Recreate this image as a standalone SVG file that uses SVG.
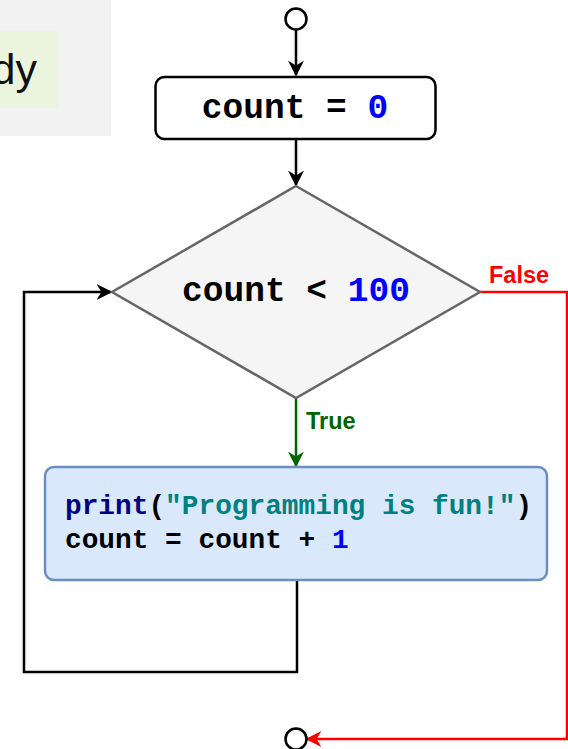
<svg xmlns="http://www.w3.org/2000/svg" width="568" height="749" viewBox="0 0 568 749">
<defs>
<style>
.mono{font-family:"Liberation Mono","DejaVu Sans Mono",monospace;font-weight:bold}
.lbl{font-family:"Liberation Sans",Arial,sans-serif;font-weight:bold;font-size:23.5px}
.conn{fill:none;stroke-width:2.5}
</style>
<marker id="ab2" viewBox="0 0 10 10" refX="9" refY="5" markerWidth="16" markerHeight="16" orient="auto" markerUnits="userSpaceOnUse">
<path d="M0,0 L10,5 L0,10 L3,5 Z" fill="#000"/>
</marker>
<marker id="ag" viewBox="0 0 10 10" refX="9" refY="5" markerWidth="16" markerHeight="16" orient="auto" markerUnits="userSpaceOnUse">
<path d="M0,0 L10,5 L0,10 L3,5 Z" fill="#006600"/>
</marker>
<marker id="ar" viewBox="0 0 10 10" refX="9" refY="5" markerWidth="16" markerHeight="16" orient="auto" markerUnits="userSpaceOnUse">
<path d="M0,0 L10,5 L0,10 L3,5 Z" fill="#ff0000"/>
</marker>
</defs>
<rect width="568" height="749" fill="#fff"/>
<g id="panel">
<rect x="0" y="0" width="111" height="136" fill="#f2f2f2"/>
<rect x="0" y="31" width="58" height="77" fill="#ebf5dd"/>
<text x="37" y="84" text-anchor="end" font-family="'Liberation Sans',Arial,sans-serif" font-size="43" fill="#111">dy</text>
</g>
<g id="connectors">
<path class="conn" stroke="#000" d="M296,30 L296,75" marker-end="url(#ab2)"/>
<path class="conn" stroke="#000" d="M296,139 L296,185" marker-end="url(#ab2)"/>
<path class="conn" stroke="#006600" d="M296,398 L296,466" marker-end="url(#ag)"/>
<path class="conn" stroke="#000" d="M297,581 L297,672 L24,672 L24,292 L111,292" marker-end="url(#ab2)"/>
<path class="conn" stroke="#ff0000" d="M480,292 L567,292 L567,739 L307,739" marker-end="url(#ar)"/>
<text class="lbl" x="306" y="429" fill="#006600">True</text>
<text class="lbl" x="489" y="283" fill="#ff0000">False</text>
</g>
<g id="start">
<circle cx="296" cy="19" r="10.5" fill="#fff" stroke="#000" stroke-width="2.5"/>
</g>
<g id="init">
<rect x="155.5" y="77" width="280" height="62" rx="9" fill="#fff" stroke="#000" stroke-width="2.5"/>
<text class="mono" x="295" y="118" text-anchor="middle" font-size="34.5" fill="#000">count = <tspan fill="#0000ff">0</tspan></text>
</g>
<g id="cond">
<polygon points="296,186 480,292 296,398 112,292" fill="#f5f5f5" stroke="#666" stroke-width="2.5"/>
<text class="mono" x="296" y="301" text-anchor="middle" font-size="34.5" fill="#000">count &lt; <tspan fill="#0000ff">100</tspan></text>
</g>
<g id="body">
<rect x="45" y="467" width="502" height="113" rx="9" fill="#dae8fc" stroke="#6c8ebf" stroke-width="2.5"/>
<text class="mono" x="65" y="514" font-size="27.8" fill="#000"><tspan fill="#000080">print</tspan>(<tspan fill="#008080">"Programming is fun!"</tspan>)</text>
<text class="mono" x="65" y="548" font-size="27.8" fill="#000">count = count + <tspan fill="#0000ff">1</tspan></text>
</g>
<g id="end">
<circle cx="296" cy="739" r="10.5" fill="#fff" stroke="#000" stroke-width="2.5"/>
</g>
</svg>
